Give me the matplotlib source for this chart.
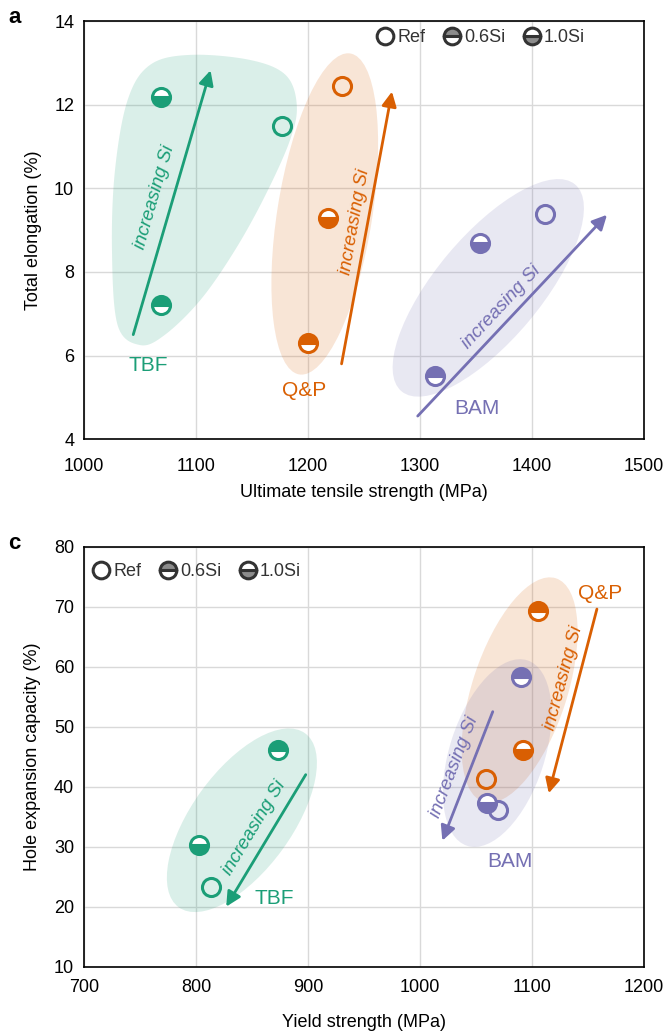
import numpy as np
import matplotlib
matplotlib.use('Agg')
import matplotlib.pyplot as plt
from matplotlib.patches import Ellipse, Polygon
from matplotlib.transforms import ScaledTranslation
from matplotlib.lines import Line2D

plt.rcParams['font.family'] = ['Liberation Sans', 'DejaVu Sans']

# ---- data, panel a (UTS vs total elongation) ----
kinds = ['Ref', '0.6Si', '1.0Si']
a_tbf_x = [1177, 1069, 1069]
a_tbf_y = [11.5, 7.2, 12.2]
a_qp_x = [1230, 1200, 1218]
a_qp_y = [12.45, 6.3, 9.3]
a_bam_x = [1412, 1313, 1354]
a_bam_y = [9.4, 5.5, 8.7]

# ---- data, panel c (YS vs hole expansion) ----
c_tbf_x = [813, 873, 803]
c_tbf_y = [23.3, 46.1, 30.2]
c_qp_x = [1059, 1105, 1092]
c_qp_y = [41.2, 69.2, 46.1]
c_bam_x = [1070, 1090, 1060]
c_bam_y = [36.1, 58.2, 37.2]

GREEN = '#1b9e77'
ORANGE = '#d95f02'
PURPLE = '#7570b3'
fills = {'Ref': 'none', '0.6Si': 'top', '1.0Si': 'bottom'}

fig = plt.figure(figsize=(6.68, 10.32), dpi=100)
ax1 = fig.add_axes([0.1257, 0.5746, 0.8383, 0.4046])
ax2 = fig.add_axes([0.1257, 0.0633, 0.8383, 0.4070])


def setup(ax, xlim, ylim, xstep, ystep, xlabel, ylabel, xpad, xlabpad):
    ax.set_xlim(*xlim)
    ax.set_ylim(*ylim)
    ax.set_xticks(np.arange(xlim[0], xlim[1] + 1, xstep))
    ax.set_yticks(np.arange(ylim[0], ylim[1] + 0.01, ystep))
    ax.grid(True, color='#d9d9d9', lw=1)
    ax.set_axisbelow(True)
    ax.tick_params(labelsize=13, length=0, pad=7)
    ax.tick_params(axis='x', pad=xpad)
    ax.set_xlabel(xlabel, fontsize=13, labelpad=xlabpad)
    ax.set_ylabel(ylabel, fontsize=13, labelpad=9)
    for s in ax.spines.values():
        s.set_linewidth(1.2)


def points(ax, xs, ys, color):
    for x, y, k in zip(xs, ys, kinds):
        ax.plot(x, y, 'o', ms=13, mew=2.2, mec=color, fillstyle=fills[k],
                mfc=color if k != 'Ref' else 'none', markerfacecoloralt='white', zorder=5)


def ellipse(ax, cx, cy, w_px, h_px, ang, color):
    tr = fig.dpi_scale_trans + ScaledTranslation(cx, cy, ax.transData)
    ax.add_patch(Ellipse((0, 0), w_px / 100, h_px / 100, angle=ang, transform=tr,
                         fc=color, alpha=0.16, ec='none', zorder=1))


def arrow(ax, start, tip, color):
    ax.annotate('', xy=tip, xytext=start,
                arrowprops=dict(arrowstyle='-|>', lw=2, color=color, mutation_scale=22,
                                shrinkA=0, shrinkB=0), zorder=4)


def blob(ax, pts, color):
    # smooth closed outline (Catmull-Rom) computed in display space
    d = ax.transData.transform(np.array(pts))
    n = len(d)
    out = []
    for i in range(n):
        p0, p1, p2, p3 = d[i - 1], d[i], d[(i + 1) % n], d[(i + 2) % n]
        for t in np.linspace(0, 1, 12, endpoint=False):
            out.append(0.5 * ((2 * p1) + (-p0 + p2) * t + (2 * p0 - 5 * p1 + 4 * p2 - p3) * t ** 2
                              + (-p0 + 3 * p1 - 3 * p2 + p3) * t ** 3))
    back = ax.transData.inverted().transform(np.array(out))
    ax.add_patch(Polygon(back, closed=True, fc=color, alpha=0.16, ec='none', zorder=1))


def label(ax, x, y, s, color, rot=0, size=13.5, style='italic'):
    ax.text(x, y, s, color=color, rotation=rot, ha='center', va='center',
            fontsize=size, style=style, rotation_mode='anchor', zorder=6)


# ---------------- panel a ----------------
setup(ax1, (1000, 1500), (4, 14), 100, 2, 'Ultimate tensile strength (MPa)', 'Total elongation (%)',
      xpad=14, xlabpad=6)
tbf_outline = [(1025, 8.53), (1027.7, 10.44), (1039, 12.12), (1059, 12.96), (1095, 13.2),
               (1148, 13.08), (1180, 12.72), (1190, 12.0), (1184, 11.16), (1162, 9.84),
               (1135, 8.53), (1104, 7.33), (1072, 6.49), (1050, 6.25), (1030, 6.73)]
blob(ax1, tbf_outline, GREEN)
ellipse(ax1, 1215, 9.39, 325, 95, 81, ORANGE)
ellipse(ax1, 1361, 7.62, 270, 105, 50, PURPLE)

arrow(ax1, (1044, 6.5), (1113, 12.83), GREEN)
arrow(ax1, (1230, 5.8), (1275, 12.32), ORANGE)
arrow(ax1, (1298, 4.55), (1467, 9.37), PURPLE)

points(ax1, a_tbf_x, a_tbf_y, GREEN)
points(ax1, a_qp_x, a_qp_y, ORANGE)
points(ax1, a_bam_x, a_bam_y, PURPLE)

label(ax1, 1063, 9.8, 'increasing Si', GREEN, 74)
label(ax1, 1242, 9.2, 'increasing Si', ORANGE, 80)
label(ax1, 1373, 7.15, 'increasing Si', PURPLE, 47)
label(ax1, 1057, 5.77, 'TBF', GREEN, size=15, style='normal')
label(ax1, 1197, 5.17, 'Q&P', ORANGE, size=15, style='normal')
label(ax1, 1351, 4.74, 'BAM', PURPLE, size=15, style='normal')

# ---------------- panel c ----------------
setup(ax2, (700, 1200), (10, 80), 100, 10, 'Yield strength (MPa)', 'Hole expansion capacity (%)',
      xpad=9, xlabpad=13)
ellipse(ax2, 841, 34.4, 215, 100, 54, GREEN)
ellipse(ax2, 1089, 56.1, 235, 95, 72, ORANGE)
ellipse(ax2, 1069, 45.6, 195, 95, 72, PURPLE)

arrow(ax2, (898, 42), (827, 20), GREEN)
arrow(ax2, (1158, 69.6), (1115, 38.9), ORANGE)
arrow(ax2, (1065, 52.5), (1020, 31), PURPLE)

points(ax2, c_tbf_x, c_tbf_y, GREEN)
points(ax2, c_qp_x, c_qp_y, ORANGE)
points(ax2, c_bam_x, c_bam_y, PURPLE)

label(ax2, 852, 33.2, 'increasing Si', GREEN, 59)
label(ax2, 1128, 58.1, 'increasing Si', ORANGE, 75)
label(ax2, 1031, 43.3, 'increasing Si', PURPLE, 69)
label(ax2, 870, 21.4, 'TBF', GREEN, size=15, style='normal')
label(ax2, 1161, 72.2, 'Q&P', ORANGE, size=15, style='normal')
label(ax2, 1080, 27.5, 'BAM', PURPLE, size=15, style='normal')

# legends
handles = [Line2D([], [], marker='o', ls='none', ms=12, mew=2.2, mec='#333333',
                  fillstyle=fills[k], mfc='#8c8c8c' if k != 'Ref' else 'none',
                  markerfacecoloralt='white') for k in kinds]
for ax, loc, anchor in [(ax1, 'center right', (0.895, 0.962)), (ax2, 'center left', (0.015, 0.94))]:
    leg = ax.legend(handles, kinds, loc=loc, bbox_to_anchor=anchor, ncol=3, frameon=False,
                    fontsize=13, handletextpad=0.15, columnspacing=1.0, handlelength=1.0,
                    borderaxespad=0, borderpad=0)
    for t in leg.get_texts():
        t.set_color('#333333')

fig.text(0.012, 0.983, 'a', fontsize=16, weight='bold', va='center')
fig.text(0.012, 0.473, 'c', fontsize=16, weight='bold', va='center')

fig.savefig('out.png', dpi=100)
